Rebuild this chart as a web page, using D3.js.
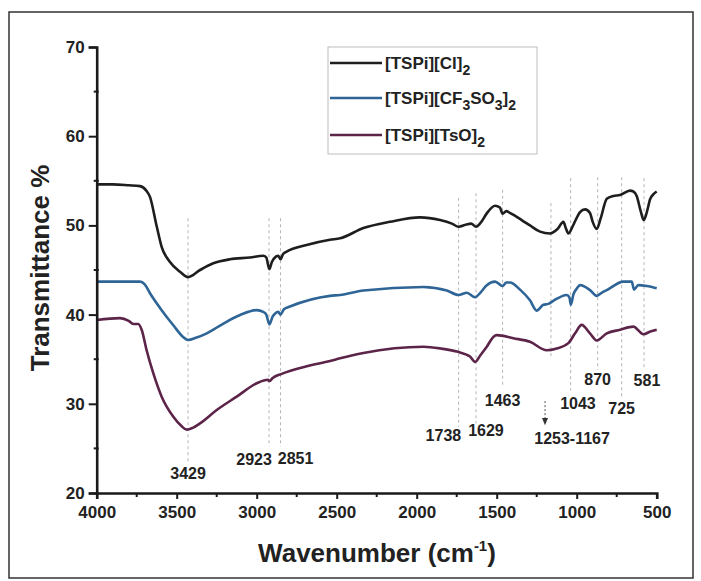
<!DOCTYPE html>
<html lang="en">
<head>
  <meta charset="UTF-8">
  <title>FTIR</title>
  <script src="https://d3js.org/d3.v7.min.js"></script>
  <style>
    body { margin: 0; background: #fff; }
    text { font-family: "Liberation Sans", Arial, sans-serif; fill: #222; }
  </style>
</head>
<body>
<div id="chart"></div>
<script>
  // series: wavenumber (cm-1) and transmittance (%)
  const wnCl = [4000, 3900, 3800, 3729, 3690, 3667, 3625, 3594, 3542, 3479, 3429, 3354, 3271, 3167, 3042, 2959, 2940, 2921, 2905, 2880, 2865, 2851, 2835, 2813, 2688, 2542, 2479, 2333, 2167, 1979, 1854, 1780, 1738, 1690, 1660, 1629, 1600, 1562, 1510, 1480, 1463, 1440, 1417, 1344, 1292, 1229, 1167, 1120, 1083, 1070, 1052, 1020, 979, 948, 917, 900, 875, 850, 812, 771, 729, 667, 646, 625, 600, 581, 560, 542, 520, 500];
  const tCl = [54.6, 54.6, 54.5, 54.4, 53.9, 53.2, 49.9, 47.6, 45.9, 44.8, 44.2, 45.0, 45.75, 46.2, 46.4, 46.6, 46.4, 45.1, 45.9, 46.5, 46.6, 46.2, 46.8, 47.05, 47.8, 48.4, 48.55, 49.7, 50.4, 50.9, 50.6, 50.2, 49.85, 50.1, 50.2, 49.85, 50.3, 51.35, 52.2, 52.0, 51.3, 51.6, 51.4, 50.6, 50.0, 49.3, 49.1, 49.6, 50.4, 49.8, 49.1, 50.1, 51.5, 51.8, 51.4, 50.4, 49.6, 50.8, 53.0, 53.3, 53.4, 53.9, 53.8, 53.3, 51.6, 50.6, 51.6, 52.9, 53.5, 53.8];

  const wnCF = [4000, 3729, 3700, 3667, 3594, 3521, 3460, 3429, 3380, 3312, 3208, 3104, 3000, 2959, 2940, 2921, 2900, 2886, 2865, 2851, 2830, 2792, 2542, 2479, 2333, 1958, 1812, 1738, 1700, 1687, 1635, 1600, 1562, 1510, 1463, 1440, 1417, 1354, 1292, 1250, 1208, 1177, 1146, 1062, 1045, 1037, 1020, 1000, 979, 917, 875, 840, 812, 708, 656, 642, 615, 562, 500];
  const tCF = [43.7, 43.7, 43.4, 42.4, 40.5, 38.8, 37.5, 37.15, 37.4, 37.9, 39.0, 39.95, 40.5, 40.3, 40.0, 38.9, 39.8, 40.1, 40.3, 40.0, 40.6, 40.9, 42.1, 42.2, 42.7, 43.1, 42.7, 42.2, 42.4, 42.45, 41.95, 42.5, 43.3, 43.7, 43.2, 43.6, 43.6, 42.8, 41.6, 40.45, 41.1, 41.2, 41.55, 42.2, 41.9, 41.1, 42.3, 42.9, 43.3, 42.75, 42.1, 42.5, 42.75, 43.7, 43.7, 42.8, 43.3, 43.2, 42.95];

  const wnTsO = [4000, 3854, 3800, 3771, 3740, 3719, 3688, 3646, 3594, 3521, 3470, 3437, 3400, 3354, 3250, 3125, 3000, 2930, 2921, 2900, 2844, 2688, 2542, 2479, 2333, 1958, 1850, 1750, 1667, 1635, 1600, 1562, 1521, 1500, 1396, 1292, 1187, 1125, 1052, 1010, 969, 917, 875, 812, 729, 646, 583, 540, 500];
  const tTsO = [39.4, 39.6, 39.3, 38.95, 38.95, 38.3, 36.0, 33.4, 30.8, 28.55, 27.5, 27.1, 27.3, 27.8, 29.3, 30.8, 32.3, 32.7, 32.55, 32.9, 33.35, 34.2, 34.8, 35.1, 35.7, 36.4, 36.2, 35.85, 35.3, 34.7, 35.5, 36.4, 37.5, 37.7, 37.35, 36.95, 36.0, 36.2, 36.8, 37.9, 38.85, 37.9, 37.1, 37.9, 38.3, 38.65, 37.8, 38.1, 38.3];

  const seriesNames = ["Cl", "CF", "TsO"];
  const seriesColors = ["#1e1e1e", "#2f6596", "#5c2449"];

  // x and y ticks
  const xTicks = [4000, 3500, 3000, 2500, 2000, 1500, 1000, 500];
  const yTicks = [20, 30, 40, 50, 60, 70];

  // peak guide lines: wavenumber, top and bottom (in % units)
  const peakWn = [3429, 2923, 2851, 1738, 1629, 1463, 1161, 1038, 869, 719, 579];
  const peakTop = [50.8, 50.8, 50.8, 53.1, 53.6, 54.0, 52.5, 55.3, 55.4, 55.4, 55.3];
  const peakBot = [23.4, 25.2, 25.2, 27.4, 27.8, 31.9, 35.2, 31.5, 33.8, 30.8, 33.8];

  // peak labels
  const labelText = ["3429", "2923", "2851", "1738", "1629", "1463", "1253-1167", "1043", "870", "725", "581"];
  const labelWn = [3429, 2905, 2868, 1722, 1567, 1463, 1029, 992, 869, 719, 561];
  const labelT = [22.2, 23.8, 23.9, 26.5, 27.1, 30.4, 26.2, 30.1, 32.8, 29.5, 32.7];
  const labelAnchor = ["middle", "end", "start", "end", "middle", "middle", "middle", "middle", "middle", "middle", "middle"];

  const W = 701, H = 581;
  const svg = d3.select("#chart").append("svg").attr("width", W).attr("height", H);

  // scanned page frame
  svg.append("rect").attr("x", 9).attr("y", 12).attr("width", 684).attr("height", 566)
    .attr("fill", "none").attr("stroke", "#333").attr("stroke-width", 1.5);

  const x = d3.scaleLinear().domain([4000, 500]).range([96.7, 656.7]);
  const y = d3.scaleLinear().domain([20, 70]).range([493, 47]);

  // guide lines
  svg.append("g").selectAll("line").data(peakWn).enter().append("line")
    .attr("x1", d => x(d)).attr("x2", d => x(d))
    .attr("y1", (d, i) => y(peakTop[i])).attr("y2", (d, i) => y(peakBot[i]))
    .attr("stroke", "#b5b5b5").attr("stroke-width", 1).attr("stroke-dasharray", "3,3");

  // arrow for the 1253-1167 band
  svg.append("line").attr("x1", x(1198)).attr("x2", x(1198)).attr("y1", y(30.3)).attr("y2", y(28.3))
    .attr("stroke", "#555").attr("stroke-width", 1).attr("stroke-dasharray", "2,2");
  svg.append("path")
    .attr("d", `M${x(1198) - 3},${y(28.4)} L${x(1198) + 3},${y(28.4)} L${x(1198)},${y(27.6)} Z`)
    .attr("fill", "#333");

  // curves
  const wnAll = [wnCl, wnCF, wnTsO], tAll = [tCl, tCF, tTsO];
  const line = d3.line().x(d => x(d[0])).y(d => y(d[1])).curve(d3.curveMonotoneX);
  seriesNames.forEach((s, i) => {
    const pts = wnAll[i].map((w, j) => [w, tAll[i][j]]).reverse();
    svg.append("path").datum(pts).attr("d", line)
      .attr("fill", "none").attr("stroke", seriesColors[i])
      .attr("stroke-width", 2.6).attr("stroke-linejoin", "round");
  });

  // axes
  const axisFont = "bold 17px 'Liberation Sans', Arial, sans-serif";
  const yAxis = svg.append("g").attr("transform", `translate(${x(4000)},0)`)
    .call(d3.axisLeft(y).tickValues(yTicks).tickSize(8).tickPadding(4));
  const xAxis = svg.append("g").attr("transform", `translate(0,${y(20)})`)
    .call(d3.axisBottom(x).tickValues(xTicks).tickSize(6).tickPadding(7).tickFormat(d3.format("d")));
  [yAxis, xAxis].forEach(g => {
    g.select(".domain").attr("stroke", "#1a1a1a").attr("stroke-width", 2.6);
    g.selectAll(".tick line").attr("stroke", "#1a1a1a").attr("stroke-width", 2);
    g.selectAll(".tick text").style("font", axisFont).attr("fill", "#222");
  });
  // minor ticks
  svg.append("g").selectAll("line").data(d3.range(25, 70, 10)).enter().append("line")
    .attr("x1", x(4000) - 3).attr("x2", x(4000) + 2).attr("y1", d => y(d)).attr("y2", d => y(d))
    .attr("stroke", "#1a1a1a").attr("stroke-width", 2);
  svg.append("g").selectAll("line").data(d3.range(3750, 500, -500)).enter().append("line")
    .attr("x1", d => x(d)).attr("x2", d => x(d)).attr("y1", y(20)).attr("y2", y(20) + 4)
    .attr("stroke", "#1a1a1a").attr("stroke-width", 2);

  // peak labels
  svg.append("g").selectAll("text").data(labelText).enter().append("text")
    .attr("x", (d, i) => x(labelWn[i])).attr("y", (d, i) => y(labelT[i]) + 6)
    .attr("text-anchor", (d, i) => labelAnchor[i])
    .style("font", "bold 16px 'Liberation Sans', Arial, sans-serif")
    .text(d => d);

  // axis titles
  const xt = svg.append("text").attr("x", 377).attr("y", 562).attr("text-anchor", "middle")
    .style("font", "bold 26px 'Liberation Sans', Arial, sans-serif").attr("fill", "#333");
  xt.append("tspan").text("Wavenumber (cm");
  xt.append("tspan").attr("dy", -11).style("font-size", "15px").text("-1");
  xt.append("tspan").attr("dy", 11).text(")");

  svg.append("text").attr("transform", "translate(49,268) rotate(-90)").attr("text-anchor", "middle")
    .style("font", "bold 26px 'Liberation Sans', Arial, sans-serif").attr("fill", "#333")
    .text("Transmittance %");

  // legend
  const leg = svg.append("g");
  leg.append("rect").attr("x", 328).attr("y", 47).attr("width", 209).attr("height", 107)
    .attr("fill", "#fff").attr("stroke", "#bdbdbd").attr("stroke-width", 1);
  const legY = [63, 98, 135];
  const legParts = [
    [["[TSPi][Cl]", 0], ["2", 1]],
    [["[TSPi][CF", 0], ["3", 1], ["SO", -1], ["3", 1], ["]", -1], ["2", 1]],
    [["[TSPi][TsO]", 0], ["2", 1]]
  ];
  seriesNames.forEach((s, i) => {
    leg.append("line").attr("x1", 330).attr("x2", 382).attr("y1", legY[i]).attr("y2", legY[i])
      .attr("stroke", seriesColors[i]).attr("stroke-width", 2.6);
    const t = leg.append("text").attr("x", 385).attr("y", legY[i] + 6)
      .style("font", "bold 17px 'Liberation Sans', Arial, sans-serif");
    let lvl = 0;
    legParts[i].forEach(p => {
      const ts = t.append("tspan").text(p[0]);
      if (p[1] === 1) { ts.attr("dy", 6).style("font-size", "14px"); lvl = 1; }
      else if (p[1] === -1) { ts.attr("dy", -6); lvl = 0; }
    });
  });
</script>
</body>
</html>
